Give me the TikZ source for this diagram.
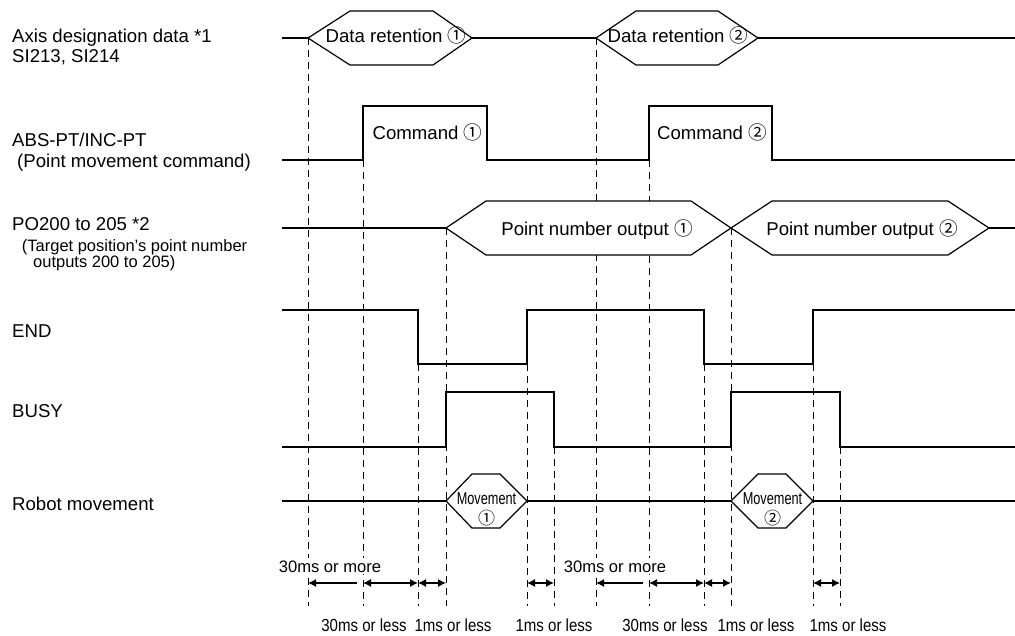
\documentclass[tikz,border=0pt]{standalone}
\usepackage{fontspec}
\setmainfont{Liberation Sans}
\newfontfamily\cjk{Noto Sans CJK JP}
\newfontfamily\narrowA{Liberation Sans}[FakeStretch=0.86]
\newfontfamily\narrowB{Liberation Sans}[FakeStretch=0.74]
\usetikzlibrary{arrows.meta}
\newcommand{\cnum}[1]{{\cjk #1}}
\begin{document}
\begin{tikzpicture}[x=1pt,y=-1pt,
  sig/.style={line width=1.2pt, line join=miter},
  hexa/.style={line width=1.2pt, line join=miter, fill=white},
  guide/.style={line width=1pt, dash pattern=on 7pt off 5pt},
  dim/.style={line width=1.2pt, >={Latex[length=8pt,width=8pt]}},
  lbl/.style={anchor=base west, inner sep=0pt, font=\fontsize{18.6}{20}\selectfont},
  sublbl/.style={anchor=base west, inner sep=0pt, font=\fontsize{16.5}{18}\selectfont},
  intext/.style={anchor=base, inner sep=0pt, font=\fontsize{18.6}{20}\selectfont},
  movtext/.style={anchor=base, inner sep=0pt, font=\fontsize{17.2}{18}\narrowB},
  movnum/.style={anchor=center, inner sep=0pt, font=\fontsize{17}{18}\cjk},
  morelbl/.style={anchor=base, inner sep=2pt, fill=white, font=\fontsize{16.6}{18}\selectfont},
  lesslbl/.style={anchor=base, inner sep=0pt, font=\fontsize{17.5}{18}\narrowA},
]
\useasboundingbox (0,0) rectangle (1015,635);

% guide (dashed) lines
\foreach \x/\ys in {308/38,363/160,418/364,446/228,527/364,554/447,596/38,649/160,704/364,731/228,813/364,840/447}
  \draw[guide] (\x,\ys) -- (\x,606);

% row 1: axis designation data
\draw[sig] (282,38) -- (308,38) (472,38) -- (596,38) (758,38) -- (1015,38);
\draw[hexa] (308,38) -- (350,11) -- (433,11) -- (472,38) -- (433,65) -- (350,65) -- cycle;
\draw[hexa] (596,38) -- (636,11) -- (718,11) -- (758,38) -- (718,65) -- (636,65) -- cycle;
\node[intext] (dr1) at (396,42.5) {Data retention \cnum{①}};
\node[intext] (dr2) at (678,42.5) {Data retention \cnum{②}};

% row 2: ABS-PT/INC-PT
\draw[sig] (282,160) -- (363,160) -- (363,106) -- (487,106) -- (487,160) -- (649,160) -- (649,106) -- (772,106) -- (772,160) -- (1015,160);
\node[intext] (cmd1) at (427.5,139.3) {Command \cnum{①}};
\node[intext] (cmd2) at (712,139.3) {Command \cnum{②}};

% row 3: PO200 to 205
\draw[sig] (282,228) -- (446,228) (989,228) -- (1015,228);
\draw[hexa] (446,228) -- (486,201) -- (691,201) -- (731,228) -- (691,255) -- (486,255) -- cycle;
\draw[hexa] (731,228) -- (772,201) -- (948,201) -- (989,228) -- (948,255) -- (772,255) -- cycle;
\node[intext] (pn1) at (597,235) {Point number output \cnum{①}};
\node[intext] (pn2) at (862,235) {Point number output \cnum{②}};

% row 4: END
\draw[sig] (282,310) -- (418,310) -- (418,364) -- (527,364) -- (527,310) -- (704,310) -- (704,364) -- (813,364) -- (813,310) -- (1015,310);

% row 5: BUSY
\draw[sig] (282,447) -- (446,447) -- (446,392) -- (554,392) -- (554,447) -- (731,447) -- (731,392) -- (840,392) -- (840,447) -- (1015,447);

% row 6: robot movement
\draw[sig] (282,501) -- (446,501) (527,501) -- (731,501) (813,501) -- (1015,501);
\draw[hexa] (446,501) -- (472,474) -- (500,474) -- (527,501) -- (500,528) -- (472,528) -- cycle;
\draw[hexa] (731,501) -- (758,474) -- (786,474) -- (813,501) -- (786,528) -- (758,528) -- cycle;
\node[movtext] (mv1) at (486.5,504.3) {Movement};
\node[movnum] (mv1n) at (486.5,518.3) {①};
\node[movtext] (mv2) at (772.5,504.3) {Movement};
\node[movnum] (mv2n) at (772.5,518.3) {②};

% left labels
\node[lbl] (l1a) at (12,42.3) {Axis designation data *1};
\node[lbl] (l1b) at (12,62.7) {SI213, SI214};
\node[lbl] (l2a) at (12,146.5) {ABS-PT/INC-PT};
\node[lbl] (l2b) at (17,167) {(Point movement command)};
\node[lbl] (l3a) at (12,230.7) {PO200 to 205 *2};
\node[sublbl] (l3b) at (21.7,251.7) {(Target position's point number};
\node[sublbl] (l3c) at (33,267.7) {outputs 200 to 205)};
\node[lbl] (l4) at (12,337.7) {END};
\node[lbl] (l5) at (12,417.7) {BUSY};
\node[lbl] (l6) at (12,510) {Robot movement};

% timing arrows
\draw[dim,->] (357,583) -- (308,583);
\draw[dim,<->] (363,583) -- (418,583);
\draw[dim,<->] (418,583) -- (446,583);
\draw[dim,<->] (527,583) -- (554,583);
\draw[dim,->] (643,583) -- (596,583);
\draw[dim,<->] (649,583) -- (704,583);
\draw[dim,<->] (704,583) -- (731,583);
\draw[dim,<->] (813,583) -- (840,583);

\node[morelbl] (m1) at (330,572) {30ms or more};
\node[morelbl] (m2) at (615,572) {30ms or more};
\node[lesslbl] (s1) at (364,631.5) {30ms or less};
\node[lesslbl] (s2) at (453,631.5) {1ms or less};
\node[lesslbl] (s3) at (554,631.5) {1ms or less};
\node[lesslbl] (s4) at (665,631.5) {30ms or less};
\node[lesslbl] (s5) at (756,631.5) {1ms or less};
\node[lesslbl] (s6) at (848,631.5) {1ms or less};
\end{tikzpicture}
\end{document}
